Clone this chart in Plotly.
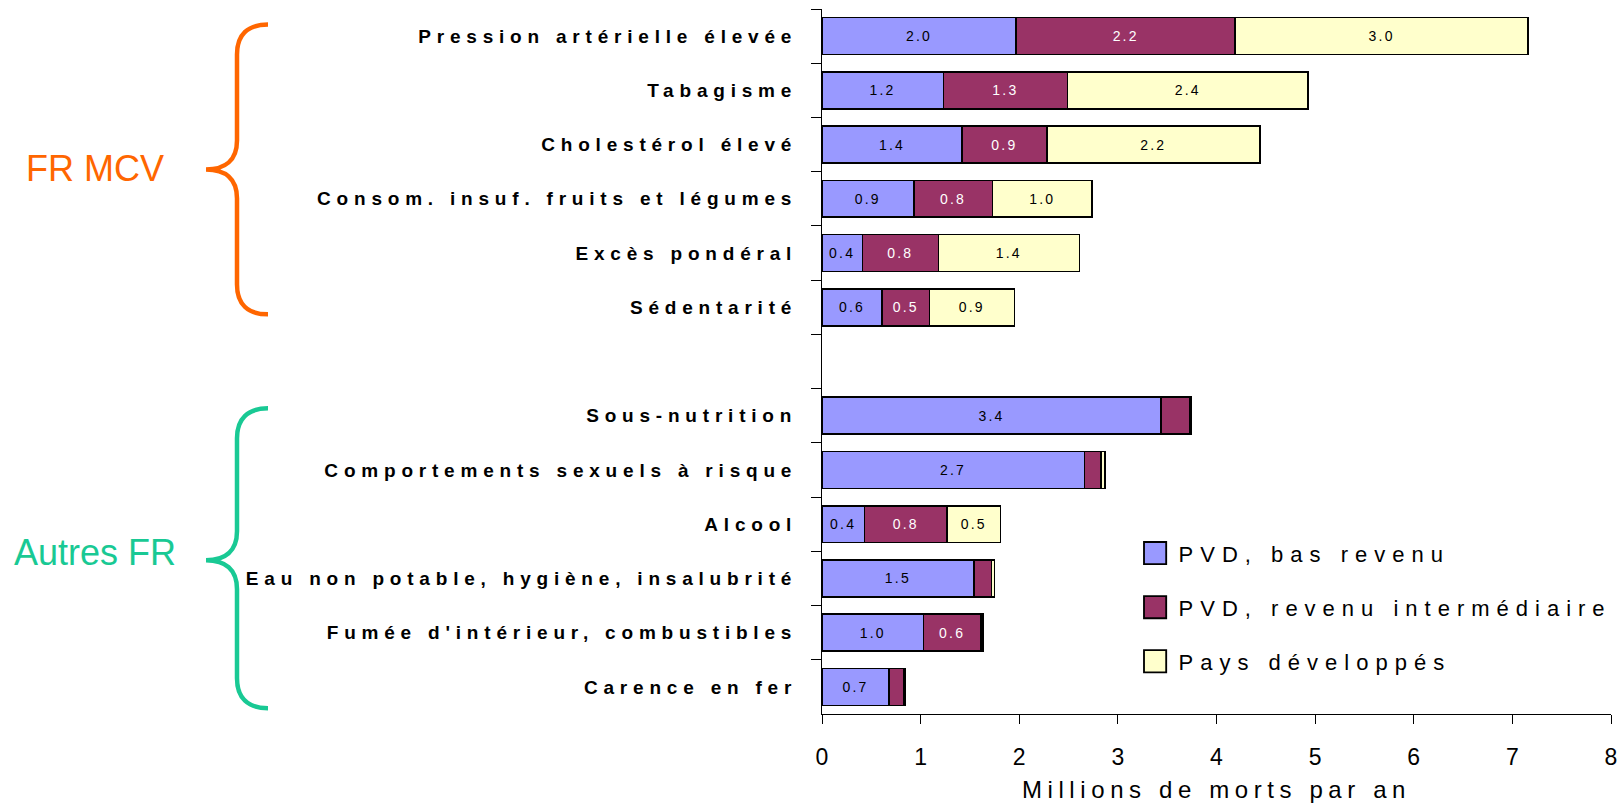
import plotly.graph_objects as go

# ---------------- data ----------------
categories = [
    "Pression artérielle élevée",
    "Tabagisme",
    "Cholestérol élevé",
    "Consom. insuf. fruits et légumes",
    "Excès pondéral",
    "Sédentarité",
    "Sous-nutrition",
    "Comportements sexuels à risque",
    "Alcool",
    "Eau non potable, hygiène, insalubrité",
    "Fumée d'intérieur, combustibles",
    "Carence en fer",
]
# axis order (blank row separates the two groups)
category_order = categories[:6] + [" "] + categories[6:]

series_names = ["PVD, bas revenu", "PVD, revenu intermédiaire", "Pays développés"]
low_income = [1.97, 1.23, 1.42, 0.93, 0.41, 0.61, 3.44, 2.66, 0.43, 1.54, 1.03, 0.68]
mid_income = [2.22, 1.26, 0.86, 0.80, 0.77, 0.48, 0.29, 0.17, 0.84, 0.18, 0.58, 0.15]
developed = [2.97, 2.44, 2.16, 1.01, 1.43, 0.86, 0.01, 0.04, 0.54, 0.03, 0.02, 0.01]

x_ticks = [0, 1, 2, 3, 4, 5, 6, 7, 8]
x_title = "Millions de morts par an"
group_labels = ["FR MCV", "Autres FR"]

# ---------------- style ----------------
W, H = 1624, 805
L, R, T, B = 822, 13, 8.5, 91.2
PW, PH = W - L - R, H - T - B
colors = ["#9999FF", "#993366", "#FFFFCC"]
text_colors = ["black", "white", "black"]
FONT = "Liberation Sans, Arial, sans-serif"


def labels(vals):
    return [f"{v:.1f}" if v >= 0.35 else "" for v in vals]


fig = go.Figure()
for i, (name, vals) in enumerate(zip(series_names, [low_income, mid_income, developed])):
    fig.add_trace(go.Bar(
        y=categories, x=vals, name=name, orientation="h",
        marker=dict(color=colors[i], line=dict(color="black", width=1.6)),
        text=labels(vals), textposition="inside", insidetextanchor="middle",
        textangle=0,
        textfont=dict(family=FONT, size=14, color=text_colors[i]),
        legendgroup=f"g{i}", hoverinfo="x+y+name",
    ))


def px2paper(x, y):
    return (x - L) / PW, 1 - (y - T) / PH


def brace_path(xe, xv, xt, yt, ym, yb):
    pts = [
        ("M", [(xe, yt)]),
        ("C", [(xe - 20, yt), (xv, yt + 10), (xv, yt + 30)]),
        ("L", [(xv, ym - 29)]),
        ("C", [(xv, ym - 9), (xt + 19, ym), (xt, ym)]),
        ("C", [(xt + 19, ym), (xv, ym + 9), (xv, ym + 29)]),
        ("L", [(xv, yb - 30)]),
        ("C", [(xv, yb - 10), (xe - 20, yb), (xe, yb)]),
    ]
    s = ""
    for cmd, ps in pts:
        s += cmd + " " + " ".join("%.5f,%.5f" % px2paper(*p) for p in ps) + " "
    return s.strip()


brace_colors = ["#FF6600", "#19C994"]
fig.add_shape(type="path", xref="paper", yref="paper",
              path=brace_path(268, 237, 206, 24, 169, 314),
              line=dict(color=brace_colors[0], width=4.5))
fig.add_shape(type="path", xref="paper", yref="paper",
              path=brace_path(268, 237, 206, 408, 560, 708),
              line=dict(color=brace_colors[1], width=4.5))

for lab, (cx, cy), col in zip(group_labels, [(95, 168.5), (95, 552.5)], brace_colors):
    px, py = px2paper(cx, cy)
    fig.add_annotation(text=lab, xref="paper", yref="paper", x=px, y=py,
                       xanchor="center", yanchor="middle", showarrow=False,
                       font=dict(family=FONT, size=36, color=col))

fig.update_layout(
    width=W, height=H,
    margin=dict(l=L, r=R, t=T, b=B, autoexpand=False),
    barmode="stack", bargap=0.32,
    plot_bgcolor="white", paper_bgcolor="white",
    font=dict(family=FONT, color="black"),
    showlegend=True,
    legend=dict(
        x=(1138.6 - L) / PW, y=1 - (532 - T) / PH, xanchor="left", yanchor="top",
        font=dict(family=FONT, size=22, color="black"),
        traceorder="grouped", tracegroupgap=22.5,
        bgcolor="rgba(0,0,0,0)", borderwidth=0,
    ),
    xaxis=dict(
        range=[0, 8], tickvals=x_ticks, ticks="outside", ticklen=9,
        tickcolor="black", showline=True, linecolor="black", linewidth=1,
        showgrid=False, zeroline=False, ticklabelstandoff=13,
        tickfont=dict(family=FONT, size=23, color="black"),
        title=dict(text=x_title, font=dict(family=FONT, size=24, color="black"),
                   standoff=12),
    ),
    yaxis=dict(
        type="category", categoryorder="array", categoryarray=category_order,
        range=[len(category_order) - 0.5, -0.5],
        tickson="boundaries", ticks="outside", ticklen=10, tickcolor="black",
        showline=True, linecolor="black", linewidth=1, showgrid=False,
        tickfont=dict(family=FONT, size=19, weight="bold", color="black"),
        ticklabelstandoff=20,
    ),
)

post = """
var s = document.createElement('style');
s.innerHTML = 'html,body{margin:0;padding:0;overflow:hidden;}' +
  ' .ytick text{letter-spacing:5.8px;} .legendtext{letter-spacing:7px;}' +
  ' .xtitle{letter-spacing:5.6px;} .bartext{letter-spacing:2.2px;}' +
  ' .legend .scrollbox{clip-path:none !important;}' +
  ' .legendpoints path{transform:translate(16.5px,0px) scale(1.85); stroke-width:1px !important;}';
document.head.appendChild(s);
"""
fig.write_html("out.html", post_script=post, config={"displayModeBar": False})
